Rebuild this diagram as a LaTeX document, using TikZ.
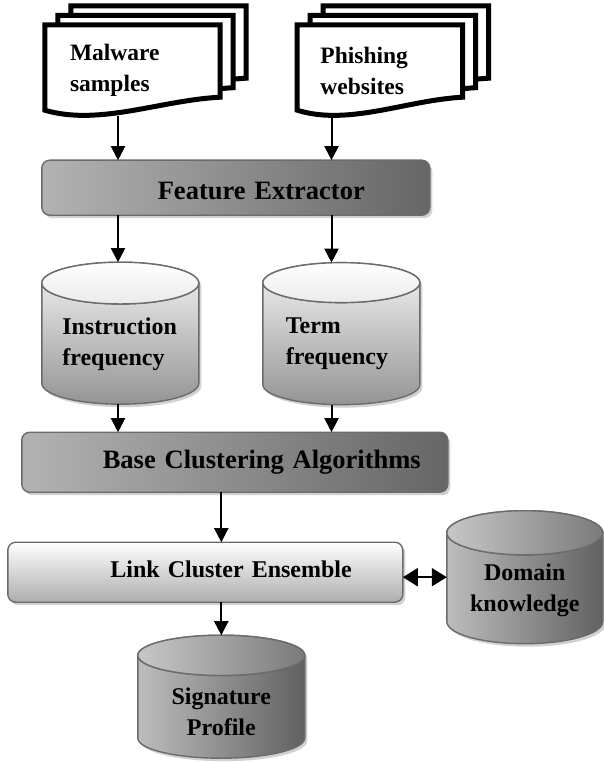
\documentclass[tikz,border=0pt]{standalone}
\usepackage{fontspec}
\setmainfont{Liberation Serif}
\usetikzlibrary{
        arrows.meta,
        backgrounds,
        calc,
        positioning,
        shadows,
        shapes.geometric
    }
\tikzset{>={Triangle[length=14pt,width=14pt]}}
\tikzset{
  sheet/.style={draw=black,line width=5pt,fill=white},
  docfront/.style={inner ysep=0pt,minimum height=91pt,align=left,
                   font=\fontsize{23.5}{31}\selectfont\bfseries},
  stage/.style={draw=black!58,line width=1.4pt,rounded corners=8pt,inner ysep=0pt,
                align=right,outer sep=0pt,
                drop shadow={shadow xshift=2.5pt,shadow yshift=-3pt,fill=black!30,opacity=.6}},
  darkstage/.style={stage,left color=black!30,middle color=black!14,right color=black!60,
                    font=\fontsize{26.5}{31}\selectfont\bfseries},
  lightstage/.style={stage,top color=white,bottom color=black!32,
                     font=\fontsize{24}{31}\selectfont\bfseries},
  store/.style={cylinder,shape border rotate=90,draw=black!58,line width=1.4pt,
                inner sep=0pt,outer sep=0pt,font=\fontsize{24}{31}\selectfont\bfseries,
                drop shadow={shadow xshift=2.5pt,shadow yshift=-3pt,fill=black!30,opacity=.6}},
  lightstore/.style={store,top color=black!4,bottom color=black!42,align=left},
  darkstore/.style={store,left color=black!26,middle color=black!16,right color=black!62,align=center},
  lightlid/.style={draw=black!58,line width=1.4pt,top color=white,bottom color=black!8},
  darklid/.style={draw=black!58,line width=1.4pt,left color=black!22,right color=black!52},
  flow/.style={->,line width=2pt},
  both/.style={{Triangle[length=15pt,width=18pt]}-{Triangle[length=15pt,width=18pt]},line width=2pt}
}
% a stack of three pages behind a document node
\newcommand{\sheets}[1]{%
  \foreach \dx/\dy in {26/19,13/9.5,0/0}
    \draw[sheet] ($(#1.south west)+(\dx pt,6pt+\dy pt)$) -- ($(#1.north west)+(\dx pt,\dy pt)$)
      -- ($(#1.north east)+(\dx pt,\dy pt)$) -- ($(#1.south east)+(\dx pt,19pt+\dy pt)$)
      .. controls ($(#1.south west)!.66!(#1.south east)+(\dx pt,16pt+\dy pt)$)
      and ($(#1.south west)!.31!(#1.south east)+(\dx pt,-10pt+\dy pt)$)
      .. ($(#1.south west)+(\dx pt,6pt+\dy pt)$) -- cycle;}
% top ellipse of a cylinder
\newcommand{\lid}[2]{%
  \draw[#2] let \p1=(#1.before top), \p2=(#1.after top), \p3=(#1.top) in
    ({(\x1+\x2)/2},\y1) ellipse [x radius={abs(\x2-\x1)/2}, y radius={\y3-\y1}];}

\begin{document}
\begin{tikzpicture}
\useasboundingbox (0,0) rectangle (603pt,-762pt);
\coordinate (colA) at (118pt,0);
\coordinate (colB) at (331.5pt,0);

\node[docfront,inner xsep=25pt,text width=125pt] (mal) at (132.5pt,-70.5pt) {Malware\\samples};
\node[docfront,inner xsep=23pt,text width=119pt] (phish) [right=77pt of mal] {Phishing\\websites};
\begin{scope}[on background layer]
  \sheets{mal}
  \sheets{phish}
\end{scope}

\node[darkstage,text width=258pt,inner xsep=65pt,minimum height=55pt,text height=23.5pt] (fe)
      [below=44pt of mal.south west,anchor=north west,xshift=-3pt] {Feature Extractor};
\node[lightstore,minimum width=157pt,minimum height=142pt,aspect=0.36,text width=116pt] (instr)
      [below=47pt of fe.south west,xshift=78.5pt] {Instruction\\frequency};
\node[lightstore,minimum width=157pt,minimum height=142pt,aspect=0.36,text width=111pt] (term)
      [right=64pt of instr] {Term\\frequency};
\node[darkstage,text width=372pt,inner xsep=27pt,minimum height=60pt] (base)
      [below=28pt of instr.south,xshift=114.5pt] {Base Clustering Algorithms};
\node[lightstage,text width=293pt,inner xsep=51pt,minimum height=60pt,text height=10pt] (link)
      [below=50pt of base.south west,anchor=north west,xshift=-14pt] {Link Cluster Ensemble};
\node[darkstore,minimum width=156pt,minimum height=133pt,aspect=0.34,text width=130pt,text height=21pt] (dom)
      [right=122pt of link.east,anchor=shape center,yshift=-5pt] {Domain\\knowledge};
\node[darkstore,minimum width=167pt,minimum height=123pt,aspect=0.31,text width=130pt,text height=25pt] (sig)
      [below=33pt of link,xshift=16pt] {Signature\\Profile};

\lid{instr}{lightlid}
\lid{term}{lightlid}
\lid{dom}{darklid}
\lid{sig}{darklid}

\path[flow]
  (mal.south -| colA) edge (fe.north -| colA)
  (phish.south -| colB) edge (fe.north -| colB)
  (fe.south -| colA) edge (instr.top -| colA)
  (fe.south -| colB) edge (term.top -| colB)
  (instr.bottom -| colA) edge (base.north -| colA)
  (term.bottom -| colB) edge (base.north -| colB)
  (base.south -| sig.top) edge (link.north -| sig.top)
  (link.south -| sig.top) edge (sig.top);
\draw[both] (link.east |- dom.shape center) -- (dom.west |- dom.shape center);
\end{tikzpicture}
\end{document}
